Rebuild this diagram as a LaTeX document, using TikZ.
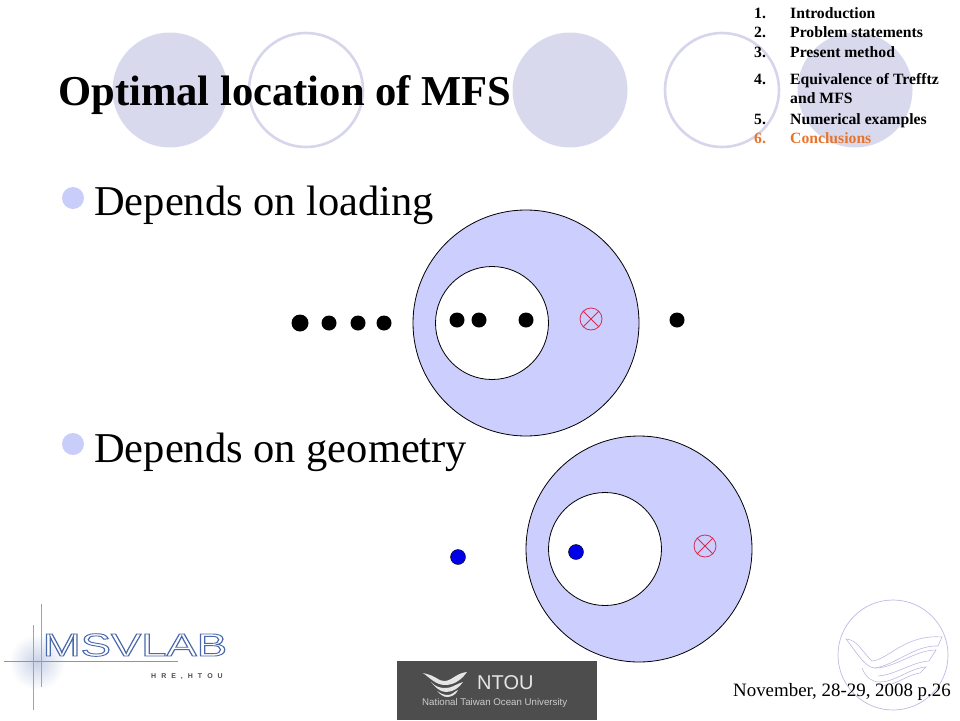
\documentclass[tikz,border=0pt]{standalone}
\usepackage{fontspec}
\setmainfont{Liberation Serif}
\newfontfamily\logofont{Liberation Sans}
\definecolor{decofill}{HTML}{D9D9EE}
\definecolor{decoring}{HTML}{D5D5EC}
\definecolor{discfill}{HTML}{CCCEFE}
\definecolor{bulletfill}{HTML}{C9CDFA}
\definecolor{tocorange}{HTML}{E8742C}
\definecolor{sealline}{HTML}{BDB8E4}
\definecolor{logoblue}{HTML}{4A68AE}
\definecolor{boxgray}{HTML}{4D4D4D}
\definecolor{srcred}{HTML}{D92B4B}
\definecolor{loadblue}{HTML}{0000E8}
\newcommand{\hollowtext}[1]{\special{pdf:code q 0.29 0.41 0.68 RG 1 1 1 rg 2 Tr 0.9 w}#1\special{pdf:code 0 Tr Q}}
\tikzset{
	decodisc/.style={circle, fill=decofill, minimum size=115pt, inner sep=0pt},
	decoloop/.style={circle, draw=decoring, line width=2.6pt, minimum size=114pt, inner sep=0pt},
	outerdisc/.style={circle, draw=black, fill=discfill, line width=0.8pt, minimum size=226pt, inner sep=0pt},
	innerdisc/.style={circle, draw=black, fill=white, line width=0.8pt, minimum size=113pt, inner sep=0pt},
	srcmark/.style={circle, draw=srcred, line width=0.8pt, minimum size=22pt, inner sep=0pt,
		path picture={
			\draw[srcred, line width=0.8pt] (path picture bounding box.north west) -- (path picture bounding box.south east);
			\draw[srcred, line width=0.8pt] (path picture bounding box.north east) -- (path picture bounding box.south west);
		}},
	loadpt/.style={circle, fill=black, minimum size=15pt, inner sep=0pt},
	blueload/.style={circle, draw=black, fill=loadblue, line width=0.4pt, minimum size=15pt, inner sep=0pt},
	bulletpt/.style={circle, fill=bulletfill, minimum size=22pt, inner sep=0pt},
	bigtext/.style={anchor=west, inner sep=0pt, font=\fontsize{42.5}{42.5}\selectfont},
	toc/.style={anchor=base west, inner sep=0pt, font=\fontsize{15.7}{15.7}\selectfont\bfseries},
	sealwave/.style={sealline, line width=0.6pt},
}
\begin{document}
\begin{tikzpicture}[x=1pt, y=-1pt]
	\useasboundingbox (0,0) rectangle (960,720);

	\node[decodisc] (deco1) at (170,90) {};
	\node[decoloop] (deco2) at (306,90) {};
	\node[decodisc] (deco3) at (570,90) {};
	\node[decoloop] (deco4) at (722,90) {};
	\node[decodisc] (deco5) at (855,90) {};

	\node[anchor=west, inner sep=0pt, font=\fontsize{42.6}{42.6}\selectfont\bfseries] (title) at (58,95) {Optimal location of MFS};

	\node[toc] (n1) at (754,18) {1.};
	\node[toc] (t1) at (790,18) {Introduction};
	\node[toc] (n2) at (754,37) {2.};
	\node[toc] (t2) at (790,37) {Problem statements};
	\node[toc] (n3) at (754,57) {3.};
	\node[toc] (t3) at (790,57) {Present method};
	\node[toc] (n4) at (754,84) {4.};
	\node[toc] (t4) at (790,84) {Equivalence of Trefftz};
	\node[toc] (t4b) at (790,103) {and MFS};
	\node[toc] (n5) at (754,124) {5.};
	\node[toc] (t5) at (790,124) {Numerical examples};
	\node[toc, text=tocorange] (n6) at (754,143) {6.};
	\node[toc, text=tocorange] (t6) at (790,143) {Conclusions};

	\node[bulletpt] (b1) at (73,198) {};
	\node[bigtext] (dep1) at (94,205) {Depends on loading};
	\node[bulletpt] (b2) at (73,444) {};
	\node[bigtext] (dep2) at (94,452) {Depends on geometry};

	\node[outerdisc] (outer1) at (526,323) {};
	\node[innerdisc] (inner1) at (492,323) {};
	\node[srcmark] (src1) at (591,319) {};
	\node[loadpt, minimum size=17pt] (p1) at (300,323) {};
	\node[loadpt] (p2) at (329,323) {};
	\node[loadpt] (p3) at (358,323) {};
	\node[loadpt] (p4) at (384,323) {};
	\node[loadpt] (p5) at (457,320) {};
	\node[loadpt] (p6) at (479,320) {};
	\node[loadpt] (p7) at (526,320) {};
	\node[loadpt] (p8) at (677,320) {};

	\node[outerdisc] (outer2) at (639,549) {};
	\node[innerdisc] (inner2) at (605,549) {};
	\node[srcmark] (src2) at (705,546) {};
	\node[blueload] (q1) at (458,557) {};
	\node[blueload] (q2) at (576,552) {};

	% lab logo
	\shade[inner color=logoblue!30, outer color=white] (9,634) rectangle (65,690);
	\coordinate (lh1) at (4,661);
	\coordinate (lh2) at (178,661);
	\coordinate (lv1) at (41,604);
	\coordinate (lv2) at (41,687);
	\coordinate (lv3) at (33,625);
	\coordinate (lv4) at (33,710);
	\draw[logoblue!70, line width=0.8pt] (lh1) -- (lh2);
	\draw[logoblue!60, line width=0.8pt] (lv1) -- (lv2);
	\draw[logoblue!60, line width=0.8pt] (lv3) -- (lv4);
	\node[anchor=center, inner sep=0pt, xscale=1.42, font=\logofont\fontsize{32}{32}\selectfont] (lab) at (135,645) {\hollowtext{MSVLAB}};
	\node[anchor=center, inner sep=0pt, text=black!70, font=\logofont\fontsize{7}{7}\selectfont\bfseries] (labsub) at (187,677) {H\hspace{5pt}R\hspace{5pt}E\hspace{5pt},\hspace{5pt}H\hspace{5pt}T\hspace{5pt}O\hspace{5pt}U};

	% university box
	\fill[boxgray] (397,661) rectangle (597,720);
	\fill[white!90!black] (423,673) .. controls (437,676) and (438,681) .. (444,681) .. controls (452,681) and (456,673) .. (467,672) .. controls (462,679) and (455,685) .. (445,685) .. controls (436,685) and (430,678) .. (423,673) -- cycle;
	\fill[white!90!black] (431,682) .. controls (436,687) and (440,688) .. (446,688) .. controls (452,688) and (456,684) .. (463,682) .. controls (459,688) and (453,692) .. (446,692) .. controls (440,692) and (435,687) .. (431,682) -- cycle;
	\fill[white!90!black] (437,691) .. controls (440,693) and (443,695) .. (448,695) .. controls (452,695) and (455,691) .. (458,690) .. controls (456,695) and (451,697) .. (447,697) .. controls (443,697) and (440,694) .. (437,691) -- cycle;
	\node[anchor=west, inner sep=0pt, text=white!90!black, font=\logofont\fontsize{20}{20}\selectfont] (ntou) at (477,683) {NTOU};
	\node[anchor=west, inner sep=0pt, text=white!80!black, font=\logofont\fontsize{9.7}{9.7}\selectfont] (ntouname) at (422,703) {National Taiwan Ocean University};

	% seal
	\node[circle, draw=sealline, line width=0.7pt, minimum size=110pt, inner sep=0pt] (sealring) at (893,655) {};
	\draw[sealwave] (846,639) .. controls (858,640) and (862,652) .. (872,661) .. controls (888,660) and (905,634) .. (942,637) -- (938,646) .. controls (915,645) and (895,665) .. (875,668) .. controls (865,668) and (855,650) .. (846,639) -- cycle;
	\draw[sealwave] (875,668) .. controls (895,668) and (915,650) .. (936,650) -- (929,661) .. controls (912,662) and (895,675) .. (878,676);
	\draw[sealwave] (862,668) .. controls (866,678) and (872,682) .. (880,682) .. controls (895,682) and (910,668) .. (926,667) -- (920,673) .. controls (905,675) and (890,690) .. (878,684);

	\node[anchor=east, inner sep=0pt, font=\fontsize{18.9}{18.9}\selectfont] (date) at (951,692) {November, 28-29, 2008 p.26};
\end{tikzpicture}
\end{document}
